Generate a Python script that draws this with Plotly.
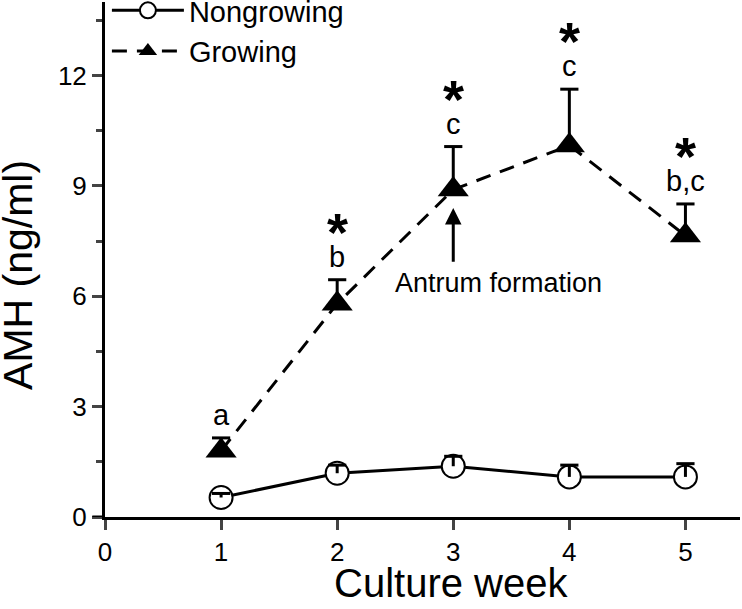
import plotly.graph_objects as go

weeks = [1, 2, 3, 4, 5]
nongrowing = [0.53, 1.19, 1.38, 1.09, 1.09]
nongrowing_err = [0.11, 0.22, 0.27, 0.32, 0.36]
growing = [1.8, 5.8, 8.9, 10.1, 7.65]
growing_err = [0.35, 0.65, 1.17, 1.53, 0.86]
letters = ["a", "b", "c", "c", "b,c"]
significant = [False, True, True, True, True]
x_ticks = [0, 1, 2, 3, 4, 5]
y_ticks = [0, 3, 6, 9, 12]

FONT = "Liberation Sans, Arial, sans-serif"

fig = go.Figure()

fig.add_trace(go.Scatter(
    x=weeks, y=nongrowing, name="Nongrowing", mode="lines+markers",
    line=dict(color="black", width=3),
    marker=dict(symbol="circle", size=23, color="white", line=dict(color="black", width=2)),
))
fig.add_trace(go.Scatter(
    x=weeks, y=growing, name="Growing", mode="lines+markers",
    line=dict(color="black", width=3, dash="15px,10px"),
    marker=dict(symbol="triangle-up", size=27, color="black"),
))
# upper error bars (stems + caps) drawn on top of markers
for ys, errs in [(nongrowing, nongrowing_err), (growing, growing_err)]:
    fig.add_trace(go.Scatter(
        x=weeks, y=ys, mode="markers", showlegend=False, hoverinfo="skip",
        marker=dict(size=1, color="rgba(0,0,0,0)"),
        error_y=dict(type="data", array=errs, arrayminus=[0] * len(errs),
                     symmetric=False, color="black", thickness=3, width=0),
    ))
    fig.add_trace(go.Scatter(
        x=weeks, y=[v + e for v, e in zip(ys, errs)], mode="markers", showlegend=False,
        hoverinfo="skip",
        marker=dict(symbol="line-ew", size=13, color="black", line=dict(color="black", width=3)),
    ))

annotations = []
for w, g, e, lab, sig in zip(weeks, growing, growing_err, letters, significant):
    annotations.append(dict(x=w, y=g + e, xref="x", yref="y", text=lab, showarrow=False,
                            yanchor="bottom", yshift=5, font=dict(family=FONT, size=29, color="black")))
    if sig:
        annotations.append(dict(x=w, y=g + e, xref="x", yref="y", text="<b>*</b>", showarrow=False,
                                yanchor="middle", yshift=48, font=dict(family=FONT, size=54, color="black")))

# Antrum formation arrow
annotations.append(dict(x=weeks[2], y=growing[2] - 0.5, xref="x", yref="y",
                        ax=weeks[2], ay=growing[2] - 2.0, axref="x", ayref="y",
                        text="", showarrow=True, arrowhead=2, arrowsize=1.1, arrowwidth=3,
                        arrowcolor="black", standoff=0, startstandoff=0))
annotations.append(dict(x=weeks[2], y=growing[2] - 2.0, xref="x", yref="y", text="Antrum formation",
                        showarrow=False, xanchor="center", yanchor="top", xshift=45, yshift=-3,
                        font=dict(family=FONT, size=27, color="black")))

# axis titles
annotations.append(dict(x=0.545, y=-0.128, xref="paper", yref="paper", text="Culture week",
                        showarrow=False, xanchor="center", yanchor="middle",
                        font=dict(family=FONT, size=40, color="black")))
annotations.append(dict(x=-0.137, y=0.47, xref="paper", yref="paper", text="AMH (ng/ml)",
                        showarrow=False, xanchor="center", yanchor="middle", textangle=-90,
                        font=dict(family=FONT, size=41, color="black")))

fig.update_layout(
    width=742, height=609,
    margin=dict(l=105, r=2, t=2, b=92, autoexpand=False),
    paper_bgcolor="white", plot_bgcolor="white",
    font=dict(family=FONT, size=26, color="black"),
    showlegend=True,
    legend=dict(x=0.003, y=1.033, xanchor="left", yanchor="top", bgcolor="rgba(0,0,0,0)",
                font=dict(family=FONT, size=29), tracegroupgap=0, itemwidth=72),
    annotations=annotations,
    shapes=[dict(type="line", xref="paper", yref="y", x0=-0.02, x1=0, y0=0, y1=0,
                 line=dict(color="black", width=3))],
)
fig.update_xaxes(range=[0, 5.47], tickvals=x_ticks, ticks="outside", ticklen=10, tickwidth=3,
                 showline=True, linewidth=3, linecolor="black", showgrid=False, zeroline=False,
                 tickfont=dict(family=FONT, size=26))
fig.update_yaxes(range=[0, 14], tickvals=y_ticks, ticks="outside", ticklen=10, tickwidth=3,
                 showline=True, linewidth=3, linecolor="black", showgrid=False, zeroline=False,
                 tickfont=dict(family=FONT, size=26),
                 minor=dict(dtick=1.5, tick0=0, ticks="outside", ticklen=6, tickwidth=3, showgrid=False))

fig.write_html("out.html", config={"displayModeBar": False},
               post_script="document.body.style.margin='0';document.body.style.overflow='hidden';")
